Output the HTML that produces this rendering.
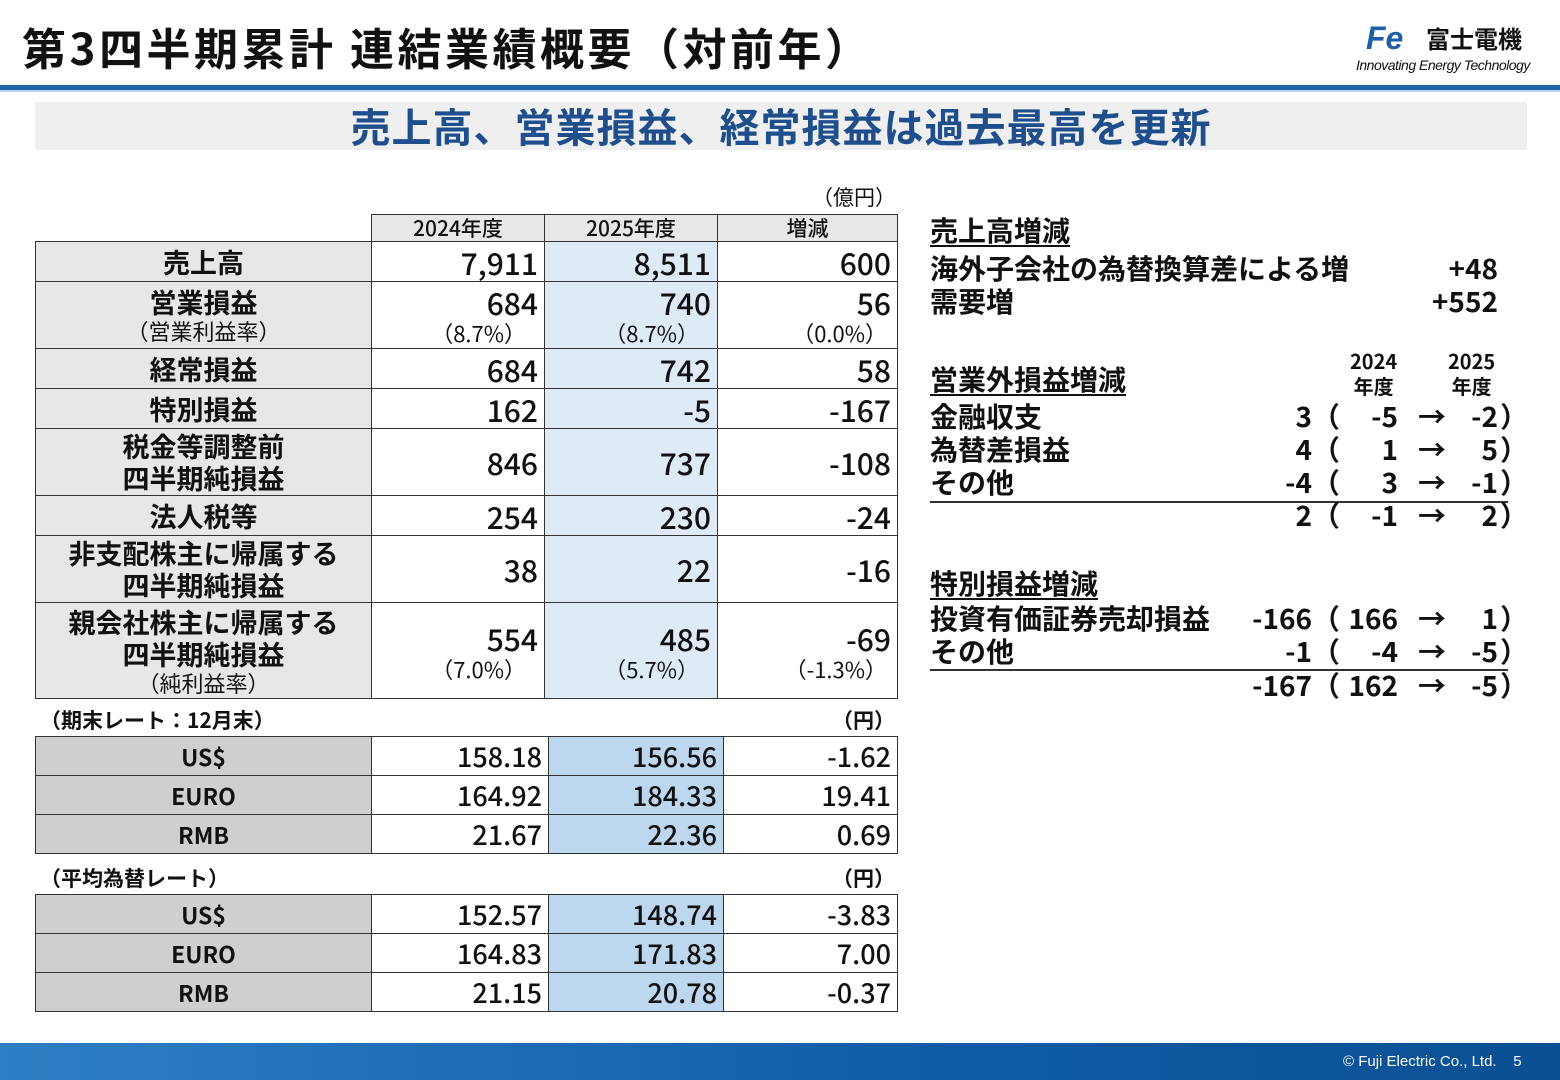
<!DOCTYPE html>
<html><head><meta charset="utf-8">
<style>
*{margin:0;padding:0;box-sizing:border-box}
body{width:1560px;height:1080px;background:#fff;position:relative;overflow:hidden;font-family:"Liberation Sans","Noto Sans CJK JP",sans-serif;color:#111}
.abs{position:absolute;white-space:nowrap}
table{border-collapse:collapse;table-layout:fixed;position:absolute}
td{border:1.5px solid #333;font-weight:bold;padding:0 6px;vertical-align:middle;font-family:"Noto Sans CJK JP",sans-serif}
td.lab{background:#e7e7e7;text-align:center;font-size:27px;line-height:32px}
td.b{background:#deebf7}
td.num{text-align:right;font-size:30px;line-height:36px;font-weight:500}
.sub{font-size:22px;font-weight:normal;line-height:26px}
.hdr td{font-size:21px;text-align:center;background:#e7e7e7;font-weight:500;line-height:24px}
.rt td{font-size:27px;text-align:right;font-weight:500;line-height:30px}
.rt td.lab{background:#d0cece;text-align:center;font-size:23px;font-weight:bold}
.rt td.b{background:#bdd7ee}
.r{font-family:"Noto Sans CJK JP",sans-serif;font-size:28px;font-weight:bold;line-height:34px}
.u{text-decoration:underline;text-underline-offset:4px}
</style></head><body>
<div class="abs" style="left:22px;top:16px;font-size:44px;letter-spacing:3.5px;font-weight:bold;font-family:'Noto Sans CJK JP',sans-serif;line-height:60px">第3四半期累計 連結業績概要（対前年）</div>
<div class="abs" style="left:1356px;top:20px;width:180px;height:56px">
 <span class="abs" style="left:10px;top:0;font-size:32px;font-style:italic;font-weight:bold;color:#1f5fa8;font-family:'Liberation Sans';line-height:36px">Fe</span>
 <span class="abs" style="left:70px;top:2px;font-size:24px;font-weight:bold;font-family:'Noto Sans CJK JP';line-height:32px">富士電機</span>
 <span class="abs" style="left:0;top:36px;font-size:14px;font-style:italic;font-family:'Liberation Sans';line-height:18px;letter-spacing:-0.5px">Innovating Energy Technology</span>
</div>
<div class="abs" style="left:0;top:85px;width:1560px;height:5px;background:#1f64a8"></div>
<div class="abs" style="left:0;top:90px;width:1560px;height:2px;background:#bcd4ec"></div>
<div class="abs" style="left:35px;top:102px;width:1492px;height:48px;background:#efefef;text-align:center;font-size:40px;letter-spacing:1px;font-weight:bold;color:#1f4e8c;line-height:46px;font-family:'Noto Sans CJK JP',sans-serif">売上高、営業損益、経常損益は過去最高を更新</div>

<div class="abs" style="left:812px;top:184px;font-size:21px;line-height:26px;font-family:'Noto Sans CJK JP'">（億円）</div>
<table style="left:35px;top:214px;width:862px">
<colgroup><col style="width:336px"><col style="width:173px"><col style="width:173px"><col style="width:180px"></colgroup>
<tr class="hdr" style="height:27px"><td style="border:none;background:#fff"></td><td>2024年度</td><td class="b">2025年度</td><td>増減</td></tr>
<tr style="height:40px"><td class="lab">売上高</td><td class="num">7,911</td><td class="num b">8,511</td><td class="num">600</td></tr>
<tr style="height:67px"><td class="lab">営業損益<div class="sub">（営業利益率）</div></td><td class="num">684<div class="sub" style="text-align:right;padding-right:12px">（8.7%）</div></td><td class="num b">740<div class="sub" style="text-align:right;padding-right:12px">（8.7%）</div></td><td class="num">56<div class="sub" style="text-align:right;padding-right:4px">（0.0%）</div></td></tr>
<tr style="height:40px"><td class="lab">経常損益</td><td class="num">684</td><td class="num b">742</td><td class="num">58</td></tr>
<tr style="height:40px"><td class="lab">特別損益</td><td class="num">162</td><td class="num b">-5</td><td class="num">-167</td></tr>
<tr style="height:67px"><td class="lab">税金等調整前<br>四半期純損益</td><td class="num">846</td><td class="num b">737</td><td class="num">-108</td></tr>
<tr style="height:40px"><td class="lab">法人税等</td><td class="num">254</td><td class="num b">230</td><td class="num">-24</td></tr>
<tr style="height:67px"><td class="lab">非支配株主に帰属する<br>四半期純損益</td><td class="num">38</td><td class="num b">22</td><td class="num">-16</td></tr>
<tr style="height:96px"><td class="lab">親会社株主に帰属する<br>四半期純損益<div class="sub">（純利益率）</div></td><td class="num">554<div class="sub" style="text-align:right;padding-right:12px">（7.0%）</div></td><td class="num b">485<div class="sub" style="text-align:right;padding-right:12px">（5.7%）</div></td><td class="num">-69<div class="sub" style="text-align:right;padding-right:4px">（-1.3%）</div></td></tr>
</table>

<div class="abs" style="left:40px;top:706px;font-size:21px;font-weight:bold;line-height:28px;font-family:'Noto Sans CJK JP'">（期末レート：12月末）</div>
<div class="abs" style="left:832px;top:706px;font-size:21px;font-weight:bold;line-height:28px;font-family:'Noto Sans CJK JP'">（円）</div>
<table class="rt" style="left:35px;top:736px;width:862px">
<colgroup><col style="width:336px"><col style="width:177px"><col style="width:175px"><col style="width:174px"></colgroup>
<tr style="height:39px"><td class="lab">US$</td><td>158.18</td><td class="b">156.56</td><td>-1.62</td></tr>
<tr style="height:39px"><td class="lab">EURO</td><td>164.92</td><td class="b">184.33</td><td>19.41</td></tr>
<tr style="height:39px"><td class="lab">RMB</td><td>21.67</td><td class="b">22.36</td><td>0.69</td></tr>
</table>
<div class="abs" style="left:40px;top:864px;font-size:21px;font-weight:bold;line-height:28px;font-family:'Noto Sans CJK JP'">（平均為替レート）</div>
<div class="abs" style="left:832px;top:864px;font-size:21px;font-weight:bold;line-height:28px;font-family:'Noto Sans CJK JP'">（円）</div>
<table class="rt" style="left:35px;top:894px;width:862px">
<colgroup><col style="width:336px"><col style="width:177px"><col style="width:175px"><col style="width:174px"></colgroup>
<tr style="height:39px"><td class="lab">US$</td><td>152.57</td><td class="b">148.74</td><td>-3.83</td></tr>
<tr style="height:39px"><td class="lab">EURO</td><td>164.83</td><td class="b">171.83</td><td>7.00</td></tr>
<tr style="height:39px"><td class="lab">RMB</td><td>21.15</td><td class="b">20.78</td><td>-0.37</td></tr>
</table>

<div>
<div class="abs r u" style="left:930px;top:213px">売上高増減</div>
<div class="abs r" style="left:930px;top:251px">海外子会社の為替換算差による増</div>
<div class="abs r" style="right:62px;top:251px">+48</div>
<div class="abs r" style="left:930px;top:284px">需要増</div>
<div class="abs r" style="right:62px;top:284px">+552</div>

<div class="abs" style="left:1350px;top:348px;font-size:20px;font-weight:bold;line-height:25px;text-align:center;font-family:'Noto Sans CJK JP'">2024<br>年度</div>
<div class="abs" style="left:1448px;top:348px;font-size:20px;font-weight:bold;line-height:25px;text-align:center;font-family:'Noto Sans CJK JP'">2025<br>年度</div>
<div class="abs r u" style="left:930px;top:362px">営業外損益増減</div>
<div class="abs" style="left:930px;top:501px;width:578px;height:2px;background:#333"></div>

<div class="abs r u" style="left:930px;top:566px">特別損益増減</div>
<div class="abs" style="left:930px;top:669px;width:578px;height:2px;background:#333"></div>
</div>

<div class="abs" style="left:0;top:1043px;width:1560px;height:37px;background:linear-gradient(90deg,#2d7fc4,#0f5ca6 60%,#0a4f93)"></div>
<div class="abs" style="left:1343px;top:1052px;color:#fff;font-size:15px;line-height:20px">© Fuji Electric Co., Ltd.&nbsp;&nbsp;&nbsp;&nbsp;5</div>

<script>
const rowLabels=['金融収支','為替差損益','その他',''];
const rowDiff=['3','4','-4','2'];
const rowPrev=['-5','1','3','-1'];
const rowCur=['-2','5','-1','2'];
const rowTops=[399,432,465,498];
const sLabels=['投資有価証券売却損益','その他',''];
const sDiff=['-166','-1','-167'];
const sPrev=['166','-4','162'];
const sCur=['1','-5','-5'];
const sTops=[601,634,668];
function add(txt,style){const d=document.createElement('div');d.className='abs r';d.textContent=txt;d.style.cssText=style;


document.body.appendChild(d);}
function rows(L,D,P,C,T){for(let i=0;i<L.length;i++){const t=T[i];
 if(L[i])add(L[i],'left:930px;top:'+t+'px');
 add(D[i],'right:248px;top:'+t+'px');
 add('（','left:1312px;top:'+t+'px');
 add(P[i],'right:162px;top:'+t+'px');
 add('→','left:1418px;top:'+t+'px');
 add(C[i],'right:62px;top:'+t+'px');
 add('）','left:1500px;top:'+t+'px');}}
rows(rowLabels,rowDiff,rowPrev,rowCur,rowTops);
rows(sLabels,sDiff,sPrev,sCur,sTops);
</script>
</body></html>
